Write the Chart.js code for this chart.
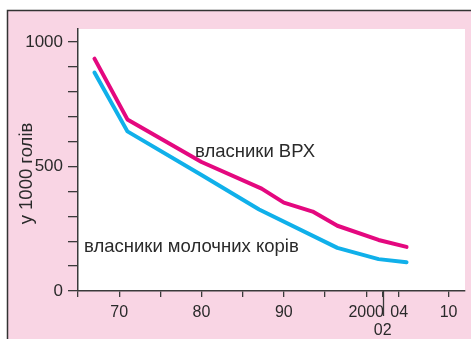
<!DOCTYPE html>
<html><head><meta charset="utf-8">
<script src="https://cdn.jsdelivr.net/npm/chart.js@4"></script>
<style>html,body{margin:0;padding:0;background:#fff}#wrap{width:471px;height:339px}</style>
</head><body><div id="wrap"><canvas id="c" width="471" height="339"></canvas></div>
<script>
const cattleYears = [1967, 1971, 1980, 1987.3, 1990, 1993.5, 1996.5, 2001.5, 2004.9];
const cattleValues = [933, 689, 518, 411, 355, 319, 262, 205, 177];
const dairyYears = [1967, 1971, 1980, 1987, 1996.5, 2001.5, 2004.9];
const dairyValues = [877, 641, 466, 327, 173, 128, 115];
const xTicks = [1965, 1970, 1975, 1980, 1985, 1990, 1995, 2000, 2002, 2004, 2010];
const xTickLabels = {1970: '70', 1980: '80', 1990: '90', 2000: '2000', 2002: ['', '02'], 2004: '04', 2010: '10'};
const yTicks = [0, 100, 200, 300, 400, 500, 600, 700, 800, 900, 1000];
const yTickLabels = {0: '0', 500: '500', 1000: '1000'};
const seriesNames = ['власники ВРХ', 'власники молочних корів'];
const yTitle = 'у 1000 голів';

const PINK_BG = '#f9d5e4';
const AXIS = '#3a3a3a';
const FONT = '"Liberation Sans", Arial, sans-serif';

const bgPlugin = {
  id: 'bg',
  beforeDraw(chart) {
    const ctx = chart.ctx, a = chart.chartArea;
    ctx.save();
    ctx.fillStyle = '#fff';
    ctx.fillRect(0, 0, chart.width, chart.height);
    ctx.fillStyle = PINK_BG;
    ctx.fillRect(7, 10, chart.width - 7, chart.height - 10);
    ctx.strokeStyle = '#333';
    ctx.lineWidth = 1.5;
    ctx.beginPath();
    ctx.moveTo(7.5, chart.height);
    ctx.lineTo(7.5, 10.5);
    ctx.lineTo(chart.width, 10.5);
    ctx.stroke();
    ctx.fillStyle = '#fff';
    ctx.fillRect(a.left, a.top, a.right - a.left, a.bottom - a.top);
    ctx.restore();
  },
  afterDraw(chart) {
    const ctx = chart.ctx, xs = chart.scales.x, a = chart.chartArea;
    ctx.save();
    // long tick for 02
    const px = Math.round(xs.getPixelForValue(2002)) + 0.5;
    ctx.strokeStyle = AXIS;
    ctx.lineWidth = 1.3;
    ctx.beginPath();
    ctx.moveTo(px, a.bottom);
    ctx.lineTo(px, a.bottom + 25);
    ctx.stroke();
    // annotations
    ctx.fillStyle = '#2a2a2a';
    ctx.font = '18.5px ' + FONT;
    ctx.textBaseline = 'alphabetic';
    ctx.textAlign = 'left';
    ctx.fillText(seriesNames[0], 195, 157);
    ctx.fillText(seriesNames[1], 84, 252);
    // y title
    ctx.translate(27, 173.5);
    ctx.rotate(-Math.PI / 2);
    ctx.textAlign = 'center';
    ctx.textBaseline = 'middle';
    ctx.font = '18.5px ' + FONT;
    ctx.fillText(yTitle, 0, 0);
    ctx.restore();
  }
};

new Chart(document.getElementById('c'), {
  type: 'line',
  data: {
    datasets: [
      {
        label: seriesNames[0],
        data: cattleYears.map((x, i) => ({x, y: cattleValues[i]})),
        borderColor: '#e4087f',
        borderWidth: 4,
        pointRadius: 0,
        tension: 0,
        borderCapStyle: 'round',
        borderJoinStyle: 'round'
      },
      {
        label: seriesNames[1],
        data: dairyYears.map((x, i) => ({x, y: dairyValues[i]})),
        borderColor: '#10b0ea',
        borderWidth: 4,
        pointRadius: 0,
        tension: 0,
        borderCapStyle: 'round',
        borderJoinStyle: 'round'
      }
    ]
  },
  options: {
    responsive: false,
    animation: false,
    devicePixelRatio: 1,
    layout: {padding: {top: 29, right: 6, left: 0, bottom: 0}},
    plugins: {legend: {display: false}, tooltip: {enabled: false}},
    scales: {
      x: {
        type: 'linear',
        min: 1965,
        max: 2012,
        afterBuildTicks(s) { s.ticks = xTicks.map(v => ({value: v})); },
        afterFit(s) { s.height = 48; },
        grid: {drawOnChartArea: false, drawTicks: true, tickLength: 6, color: AXIS, lineWidth: 1.3},
        border: {display: true, color: AXIS, width: 1.5},
        ticks: {
          autoSkip: false, maxRotation: 0, padding: 7,
          color: '#2a2a2a',
          font: {family: FONT, size: 16, lineHeight: 1.1},
          callback: v => xTickLabels[v] !== undefined ? xTickLabels[v] : ''
        }
      },
      y: {
        type: 'linear',
        min: 0,
        max: 1052,
        afterBuildTicks(s) { s.ticks = yTicks.map(v => ({value: v})); },
        afterFit(s) { s.width = 78; },
        grid: {drawOnChartArea: false, drawTicks: true, tickLength: 10, color: AXIS, lineWidth: 1.3},
        border: {display: true, color: AXIS, width: 1.5},
        ticks: {
          autoSkip: false, padding: 5,
          color: '#2a2a2a',
          font: {family: FONT, size: 17},
          callback: v => yTickLabels[v] !== undefined ? yTickLabels[v] : ''
        }
      }
    }
  },
  plugins: [bgPlugin]
});
</script>
</body></html>
